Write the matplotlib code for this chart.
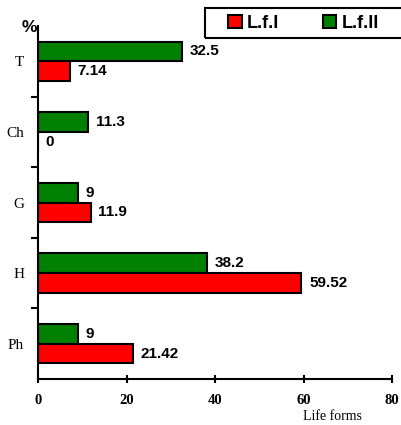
import numpy as np
import matplotlib.pyplot as plt
from matplotlib.patches import Rectangle

# data
categories = ["T", "Ch", "G", "H", "Ph"]
lf1 = [7.14, 0, 11.9, 59.52, 21.42]
lf2 = [32.5, 11.3, 9, 38.2, 9]
lf1_labels = ["7.14", "0", "11.9", "59.52", "21.42"]
lf2_labels = ["32.5", "11.3", "9", "38.2", "9"]

fig = plt.figure(figsize=(4.01, 4.25), dpi=100)
ax = fig.add_axes([38 / 401, 1 - 379 / 425, (392 - 38) / 401, (379 - 26) / 425])

y = np.arange(len(categories))
h = 0.28

ax.barh(y - h / 2, lf2, height=h, color="#008000", edgecolor="black",
        linewidth=1.5, label="L.f.II")
ax.barh(y + h / 2, lf1, height=h, color="#ff0000", edgecolor="black",
        linewidth=1.5, label="L.f.I")

for i in range(len(categories)):
    ax.annotate(lf2_labels[i], (lf2[i], y[i] - h / 2), xytext=(5.5, 0),
                textcoords="offset points", va="center", ha="left",
                fontsize=11, fontweight="bold", family="Liberation Sans")
    ax.annotate(lf1_labels[i], (lf1[i], y[i] + h / 2), xytext=(5.5, 0),
                textcoords="offset points", va="center", ha="left",
                fontsize=11, fontweight="bold", family="Liberation Sans")

ax.set_xlim(0, 80)
ax.set_ylim(len(categories) - 0.5, -0.5)
ax.set_xticks([0, 20, 40, 60, 80])
ax.set_yticks(y)
ax.set_yticklabels(categories, family="Liberation Serif", fontsize=11)
ax.set_yticks(np.arange(0.5, len(categories) - 0.5), minor=True)
ax.tick_params(axis="y", which="major", length=0, pad=10)
ax.tick_params(axis="y", which="minor", length=5, width=1.5, direction="out")
ax.tick_params(axis="x", which="major", length=6, width=1.5, direction="inout", pad=8)
for lab in ax.get_xticklabels():
    lab.set_family("Liberation Serif")
    lab.set_fontweight("bold")
    lab.set_fontsize(10.5)

for s in ["top", "right"]:
    ax.spines[s].set_visible(False)
for s in ["left", "bottom"]:
    ax.spines[s].set_linewidth(1.5)

fig.text(22 / 401, 1 - 32 / 425, "%", fontsize=12.5, fontweight="bold",
         family="Liberation Sans", va="baseline", ha="left")
fig.text(332 / 401, 1 - 420 / 425, "Life forms", fontsize=10,
         family="Liberation Serif", ha="center", va="baseline")

# legend box, cut off at the right edge
fig.patches.append(Rectangle((205 / 401, 1 - 38 / 425), 210 / 401, 30 / 425,
                             transform=fig.transFigure, fill=False,
                             edgecolor="black", linewidth=1.5))
handles, labels = ax.get_legend_handles_labels()
leg = fig.legend(handles[::-1], labels[::-1], loc="center left",
                 bbox_to_anchor=(228 / 401, 1 - 23 / 425), ncol=2,
                 frameon=False, handlelength=0.75, handleheight=0.7,
                 handletextpad=0.3, columnspacing=2.4,
                 borderpad=0, borderaxespad=0,
                 prop={"family": "Liberation Sans", "weight": "bold", "size": 13})

fig.savefig("out.png", dpi=100)
